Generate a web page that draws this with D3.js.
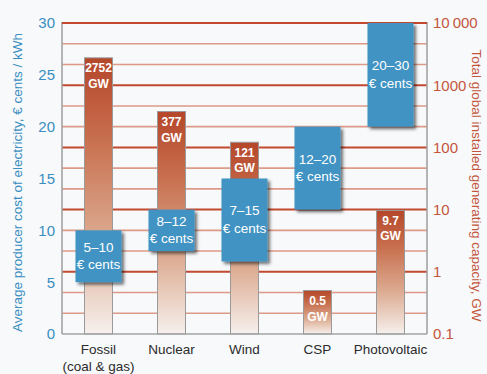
<!DOCTYPE html>
<html>
<head>
<meta charset="utf-8">
<script src="https://cdn.jsdelivr.net/npm/d3@7"></script>
<style>
  html, body { margin: 0; padding: 0; background: #f7f9fb; }
  svg { display: block; }
  text { font-family: "Liberation Sans", Arial, sans-serif; }
</style>
</head>
<body>
<svg id="chart" width="487" height="374"></svg>
<script>
// Technologies compared
const categories = ["Fossil", "Nuclear", "Wind", "CSP", "Photovoltaic"];
const categorySubLabels = ["(coal & gas)", "", "", "", ""];

// Producer cost range, € cents / kWh
const costLow = [5, 8, 7, 12, 20];
const costHigh = [10, 12, 15, 20, 30];

// Installed capacity, GW
const capacityGW = [2752, 377, 121, 0.5, 9.7];
const capacityLabels = ["2752", "377", "121", "0.5", "9.7"];

// Axis ticks
const costTicks = [0, 5, 10, 15, 20, 25, 30];
const capacityTicks = [0.1, 1, 10, 100, 1000, 10000];
const capacityTickLabels = ["0.1", "1", "10", "100", "1000", "10\u2009000"];

const svg = d3.select("#chart");
const W = 487, H = 374;
const m = { left: 62, right: 427, top: 23, bottom: 334 };

const blue = "#3f93c2";
const blueText = "#3a8ec0";
const redText = "#c4553c";

svg.append("rect").attr("width", W).attr("height", H).attr("fill", "#f7f9fb");

const x = d3.scaleBand().domain(categories).range([m.left, m.right]);
const yCost = d3.scaleLinear().domain([0, 30]).range([m.bottom, m.top]);
const yCap = d3.scaleLog().domain([0.1, 10000]).range([m.bottom, m.top]);

const defs = svg.append("defs");
const grad = defs.append("linearGradient")
  .attr("id", "capGrad").attr("x1", 0).attr("y1", 0).attr("x2", 0).attr("y2", 1);
grad.append("stop").attr("offset", "0%").attr("stop-color", "#b5462a");
grad.append("stop").attr("offset", "30%").attr("stop-color", "#c8704f");
grad.append("stop").attr("offset", "65%").attr("stop-color", "#dcaa90");
grad.append("stop").attr("offset", "100%").attr("stop-color", "#f6f0ed");

const shadow = defs.append("filter").attr("id", "boxShadow")
  .attr("x", "-20%").attr("y", "-20%").attr("width", "150%").attr("height", "150%");
shadow.append("feDropShadow")
  .attr("dx", 2.5).attr("dy", 2.5).attr("stdDeviation", 1.6)
  .attr("flood-color", "#000").attr("flood-opacity", 0.55);

// Horizontal grid: every 2 cents (one third of a decade on the capacity scale)
const gridVals = d3.range(2, 31, 2);
svg.append("g").selectAll("line").data(gridVals).join("line")
  .attr("x1", m.left).attr("x2", m.right)
  .attr("y1", d => yCost(d)).attr("y2", d => yCost(d))
  .attr("stroke", d => d % 6 === 0 ? "#c2492f" : "#dc9a87")
  .attr("stroke-width", d => d % 6 === 0 ? 2 : 1.6);

// Capacity bars (log scale)
const barW = 28;
const bars = svg.append("g");
categories.forEach((c, i) => {
  const cx = x(c) + x.bandwidth() / 2;
  const top = yCap(capacityGW[i]);
  bars.append("rect")
    .attr("x", cx - barW / 2).attr("y", top)
    .attr("width", barW).attr("height", m.bottom - top)
    .attr("fill", "url(#capGrad)")
    .attr("stroke", "#9a9a9a").attr("stroke-width", 1);
  bars.append("text")
    .attr("x", cx).attr("y", top + 14.5)
    .attr("text-anchor", "middle").attr("fill", "#fff")
    .attr("font-size", 12).attr("font-weight", "bold")
    .text(capacityLabels[i]);
  bars.append("text")
    .attr("x", cx).attr("y", top + 30)
    .attr("text-anchor", "middle").attr("fill", "#fff")
    .attr("font-size", 12).attr("font-weight", "bold")
    .text("GW");
});

// Axis frame
const frame = svg.append("g").attr("stroke", "#a3a3a3").attr("stroke-width", 1.6).attr("fill", "none");
frame.append("line").attr("x1", m.left).attr("x2", m.left).attr("y1", m.top - 1).attr("y2", m.bottom);
frame.append("line").attr("x1", m.right).attr("x2", m.right).attr("y1", m.top - 1).attr("y2", m.bottom);
frame.append("line").attr("x1", m.left).attr("x2", m.right).attr("y1", m.bottom).attr("y2", m.bottom);

// Top grid line drawn over the frame
svg.append("line")
  .attr("x1", m.left).attr("x2", m.right)
  .attr("y1", yCost(30)).attr("y2", yCost(30))
  .attr("stroke", "#c2492f").attr("stroke-width", 2);

// Cost range boxes
const boxW = 46;
const boxes = svg.append("g");
categories.forEach((c, i) => {
  const cx = x(c) + x.bandwidth() / 2;
  const y0 = yCost(costHigh[i]), y1 = yCost(costLow[i]);
  boxes.append("rect")
    .attr("x", cx - boxW / 2).attr("y", y0)
    .attr("width", boxW).attr("height", y1 - y0)
    .attr("fill", blue).attr("filter", "url(#boxShadow)");
  const cy = (y0 + y1) / 2;
  boxes.append("text")
    .attr("x", cx).attr("y", cy - 4.5)
    .attr("text-anchor", "middle").attr("fill", "#fff").attr("font-size", 13.5)
    .text(costLow[i] + "\u2013" + costHigh[i]);
  boxes.append("text")
    .attr("x", cx).attr("y", cy + 13)
    .attr("text-anchor", "middle").attr("fill", "#fff").attr("font-size", 13.5)
    .text("\u20ac cents");
});

// Left axis labels
svg.append("g").selectAll("text").data(costTicks).join("text")
  .attr("x", 55).attr("y", d => yCost(d))
  .attr("dy", "0.36em").attr("text-anchor", "end")
  .attr("fill", blueText).attr("font-size", 15)
  .text(d => d);

// Right axis labels
svg.append("g").selectAll("text").data(capacityTicks).join("text")
  .attr("x", 433).attr("y", d => yCap(d))
  .attr("dy", "0.36em").attr("text-anchor", "start")
  .attr("fill", redText).attr("font-size", 15)
  .text((d, i) => capacityTickLabels[i]);

// Category labels
const cat = svg.append("g");
categories.forEach((c, i) => {
  const cx = x(c) + x.bandwidth() / 2;
  cat.append("text").attr("x", cx).attr("y", 354)
    .attr("text-anchor", "middle").attr("fill", "#2b2b2b").attr("font-size", 13.5)
    .text(c);
  if (categorySubLabels[i]) {
    cat.append("text").attr("x", cx).attr("y", 371)
      .attr("text-anchor", "middle").attr("fill", "#2b2b2b").attr("font-size", 13.5)
      .text(categorySubLabels[i]);
  }
});

// Axis titles
svg.append("text")
  .attr("transform", `translate(22,${(m.top + m.bottom) / 2 + 4}) rotate(-90)`)
  .attr("text-anchor", "middle").attr("fill", blueText).attr("font-size", 13.5)
  .text("Average producer cost of electricity, \u20ac cents / kWh");

svg.append("text")
  .attr("transform", `translate(472,${(m.top + m.bottom) / 2 + 7}) rotate(90)`)
  .attr("text-anchor", "middle").attr("fill", redText).attr("font-size", 13.5)
  .text("Total global installed generating capacity, GW");
</script>
</body>
</html>
